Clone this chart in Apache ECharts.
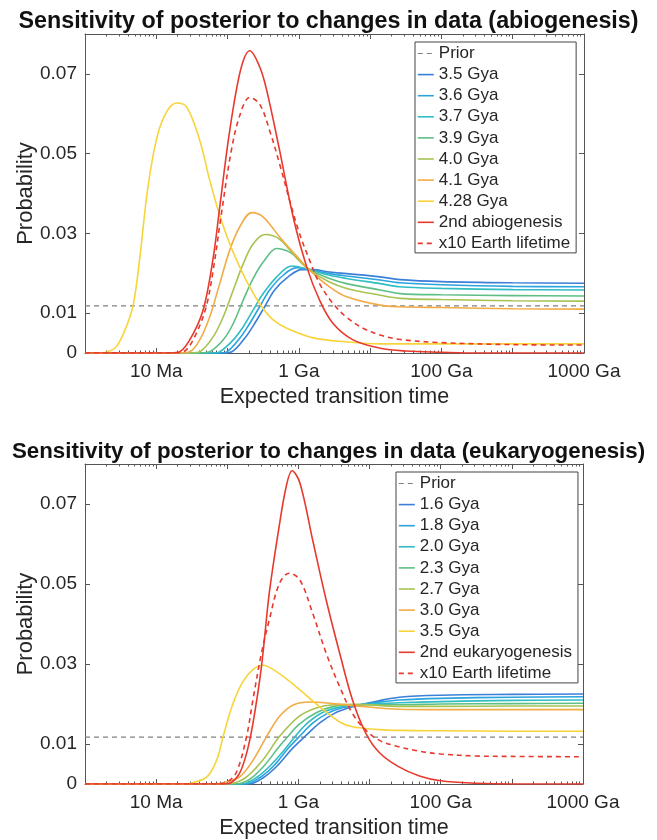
<!DOCTYPE html>
<html><head><meta charset="utf-8">
<script src="https://cdn.jsdelivr.net/npm/echarts@6/dist/echarts.min.js"></script>
<style>html,body{margin:0;padding:0;background:#fff}#c{width:657px;height:840px}</style>
</head><body><div id="c"></div>
<script>
// ---- axis ticks / labels ----
const xTickDecades = [6, 7, 8, 9, 10, 11, 12, 13];         // log10(years)
const xLabelDecades = [7, 9, 11, 13];
const xLabelTexts = ['10 Ma', '1 Ga', '100 Ga', '1000 Ga'];
const minorMultipliers = [2, 3, 4, 5, 6, 7, 8, 9];
const yTickValues = [0, 0.01, 0.03, 0.05, 0.07];

// ---- top panel (abiogenesis), points are [log10(years), probability] ----
const abioNames = ['Prior', '3.5 Gya', '3.6 Gya', '3.7 Gya', '3.9 Gya', '4.0 Gya', '4.1 Gya', '4.28 Gya', '2nd abiogenesis', 'x10 Earth lifetime'];
const abioPrior = [[6, 0.0118], [13, 0.0118]];
const abio35 = [[6,0],[7.95,0],[8.06,0.0003],[8.24,0.0037],[8.38,0.0074],[8.52,0.0116],[8.66,0.0158],[8.85,0.0191],[9.04,0.0209],[9.2,0.0209],[9.43,0.0203],[9.67,0.0199],[10.14,0.0191],[10.42,0.0184],[11,0.0179],[12,0.0176],[13,0.0175]];
const abio36 = [[6,0],[7.9,0],[7.99,0.0003],[8.17,0.0037],[8.31,0.0074],[8.45,0.0116],[8.59,0.0158],[8.78,0.0195],[8.97,0.0214],[9.15,0.0209],[9.43,0.0199],[9.67,0.0193],[10.14,0.0183],[10.42,0.0176],[11,0.0171],[12,0.0167],[13,0.0166]];
const abio37 = [[6,0],[7.8,0],[7.89,0.0003],[8.08,0.0033],[8.22,0.0066],[8.36,0.0108],[8.5,0.0149],[8.69,0.0191],[8.9,0.0218],[9.15,0.0209],[9.43,0.0195],[9.67,0.0187],[10.14,0.0174],[10.42,0.0166],[11,0.0162],[12,0.0159],[13,0.0158]];
const abio39 = [[6,0],[7.65,0],[7.75,0.0003],[7.94,0.0033],[8.08,0.0074],[8.22,0.0133],[8.36,0.0187],[8.5,0.0228],[8.69,0.0262],[8.87,0.0253],[9.01,0.0233],[9.15,0.0209],[9.43,0.0187],[9.67,0.0174],[10.14,0.0158],[10.42,0.0149],[11,0.0146],[12,0.0144],[13,0.0143]];
const abio40 = [[6,0],[7.5,0],[7.61,0.0003],[7.8,0.0041],[7.94,0.0091],[8.08,0.0158],[8.22,0.0224],[8.36,0.0274],[8.53,0.0297],[8.73,0.0285],[8.97,0.0238],[9.15,0.0208],[9.43,0.0178],[9.67,0.0162],[10.14,0.0145],[10.42,0.0137],[11,0.0134],[12,0.0131],[13,0.013]];
const abio41 = [[6,0],[7.35,0],[7.47,0.0003],[7.61,0.0033],[7.75,0.0091],[7.89,0.0174],[8.03,0.0258],[8.17,0.0316],[8.34,0.0352],[8.5,0.0341],[8.73,0.0291],[8.97,0.0243],[9.15,0.0208],[9.43,0.0166],[9.67,0.0141],[10.14,0.012],[10.42,0.0116],[11,0.0114],[12,0.0111],[13,0.011]];
const abio428 = [[6,0],[6.2,0],[6.3,0.0002],[6.44,0.0016],[6.58,0.0066],[6.68,0.0124],[6.77,0.0241],[6.87,0.040],[6.96,0.050],[7.05,0.0566],[7.17,0.0612],[7.29,0.0627],[7.43,0.0616],[7.61,0.0533],[7.75,0.0433],[7.89,0.0345],[8.03,0.0274],[8.17,0.0216],[8.31,0.0166],[8.48,0.0116],[8.64,0.0083],[8.83,0.0062],[9.2,0.0038],[9.67,0.0028],[10.14,0.0023],[11,0.0023],[13,0.0023]];
const abioSecond = [[6,0],[7.2,0],[7.33,0.0003],[7.52,0.0049],[7.67,0.0116],[7.8,0.0241],[7.89,0.0366],[8.01,0.0533],[8.13,0.0666],[8.22,0.0733],[8.31,0.0758],[8.45,0.0718],[8.55,0.0658],[8.73,0.0508],[8.92,0.0341],[9.11,0.0216],[9.29,0.0133],[9.48,0.0074],[9.76,0.0033],[10.14,0.0012],[10.5,0.0005],[11,0.0002],[11.5,0],[13,0]];
const abioX10 = [[6,0],[7.25,0],[7.4,0.0005],[7.55,0.0045],[7.7,0.0116],[7.8,0.021],[7.91,0.0345],[8.05,0.0505],[8.17,0.0595],[8.31,0.0641],[8.45,0.0624],[8.59,0.0558],[8.73,0.0474],[8.87,0.0383],[9.01,0.0299],[9.15,0.0233],[9.29,0.0174],[9.48,0.0124],[9.66,0.0091],[9.9,0.0062],[10.14,0.0045],[10.42,0.0034],[11,0.0026],[12,0.0021],[13,0.002]];

// ---- bottom panel (eukaryogenesis) ----
const eukNames = ['Prior', '1.6 Gya', '1.8 Gya', '2.0 Gya', '2.3 Gya', '2.7 Gya', '3.0 Gya', '3.5 Gya', '2nd eukaryogenesis', 'x10 Earth lifetime'];
const eukPrior = [[6, 0.0117], [13, 0.0117]];
const euk16 = [[6,0],[8.3,0],[8.5,0.0015],[8.7,0.0045],[8.9,0.0086],[9.11,0.0122],[9.3,0.0153],[9.5,0.0176],[9.7,0.019],[9.85,0.0197],[10.1,0.0207],[10.42,0.0217],[11,0.0222],[12,0.0224],[13,0.0225]];
const euk18 = [[6,0],[8.25,0],[8.45,0.0015],[8.65,0.0045],[8.85,0.0088],[9.02,0.012],[9.2,0.0152],[9.4,0.0176],[9.6,0.019],[9.81,0.0197],[10.1,0.0204],[10.42,0.021],[11,0.0214],[12,0.0217],[13,0.0218]];
const euk20 = [[6,0],[8.2,0],[8.4,0.0015],[8.6,0.0045],[8.8,0.0085],[8.95,0.0118],[9.1,0.0148],[9.3,0.0175],[9.5,0.0189],[9.81,0.0198],[10.42,0.0203],[11,0.0206],[12,0.0209],[13,0.021]];
const euk23 = [[6,0],[8.1,0],[8.3,0.001],[8.5,0.0042],[8.75,0.0098],[8.85,0.0118],[9.0,0.0148],[9.25,0.0178],[9.5,0.0194],[9.81,0.0198],[10.42,0.0198],[11,0.02],[12,0.0201],[13,0.0202]];
const euk27 = [[6,0],[8.0,0],[8.25,0.0015],[8.5,0.006],[8.73,0.0118],[9.0,0.0168],[9.25,0.019],[9.5,0.0198],[9.81,0.0199],[10.42,0.0194],[11,0.0194],[12,0.0195],[13,0.0195]];
const euk30 = [[6,0],[7.8,0],[7.95,0.0004],[8.17,0.0017],[8.36,0.0059],[8.55,0.0118],[8.73,0.0168],[8.92,0.0197],[9.16,0.0205],[9.48,0.0201],[9.95,0.0193],[10.42,0.0187],[11,0.0186],[12,0.0186],[13,0.0186]];
const euk35 = [[6,0],[7.4,0],[7.52,0.0004],[7.71,0.0017],[7.85,0.0059],[7.94,0.0118],[8.08,0.0201],[8.22,0.0256],[8.36,0.0286],[8.5,0.0297],[8.69,0.0281],[8.97,0.0243],[9.3,0.0193],[9.58,0.0155],[9.76,0.0143],[10.14,0.0136],[10.42,0.0134],[11,0.0133],[12,0.0132],[13,0.0132]];
const eukSecond = [[6,0],[7.95,0],[8.05,0.0003],[8.17,0.0026],[8.27,0.0076],[8.36,0.0151],[8.48,0.0293],[8.59,0.0477],[8.73,0.0645],[8.83,0.0745],[8.91,0.0783],[9.02,0.0753],[9.2,0.061],[9.39,0.046],[9.58,0.0327],[9.76,0.021],[9.95,0.0126],[10.14,0.0078],[10.4,0.0044],[10.7,0.002],[11,0.0008],[11.5,0.0002],[12,0],[13,0]];
const eukX10 = [[6,0],[7.85,0],[8.0,0.0005],[8.13,0.003],[8.27,0.0118],[8.36,0.021],[8.48,0.0327],[8.59,0.041],[8.73,0.050],[8.87,0.0527],[9.02,0.051],[9.2,0.0427],[9.39,0.0327],[9.58,0.0243],[9.76,0.0176],[9.95,0.0134],[10.14,0.0109],[10.37,0.0095],[10.7,0.0082],[11,0.0075],[11.5,0.007],[12,0.0069],[13,0.0068]];

// ---- styles ----
const lineColors = ['#3b7fd9', '#2ba3df', '#30bdc4', '#5dbf85', '#a6c351', '#f2ab45', '#f6d43a'];
const redColor = '#e8392d';
const priorColor = '#808080';
const axisColor = '#555555';
const textColor = '#262626';
const FONT = '"Liberation Sans", Arial, Helvetica, sans-serif';
const DASH = [5, 4];

const toYears = e => Math.pow(10, e);
const conv = arr => arr.map(p => [toYears(p[0]), p[1]]);
const majorTicks = xTickDecades.map(toYears);
const labelTicks = xLabelDecades.map(toYears);
const minorTicks = [];
xTickDecades.slice(0, -1).forEach(d => minorMultipliers.forEach(m => minorTicks.push(m * toYears(d))));

function xLabelFmt(v) {
  const e = Math.round(Math.log10(v));
  const i = xLabelDecades.indexOf(e);
  return i >= 0 ? xLabelTexts[i] : '';
}

function makeXAxes(g) {
  const base = { type: 'log', logBase: 10, gridIndex: g, min: 1e6, max: 1e13, splitLine: { show: false } };
  return [
    Object.assign({}, base, {
      position: 'bottom',
      axisLine: { show: true, lineStyle: { color: axisColor, width: 1 } },
      axisTick: { show: true, inside: true, length: 5, customValues: majorTicks, lineStyle: { color: axisColor } },
      axisLabel: { show: true, customValues: labelTicks, formatter: xLabelFmt, fontSize: 19, color: textColor, fontFamily: FONT, margin: 9 },
      name: 'Expected transition time', nameLocation: 'middle', nameGap: 33,
      nameTextStyle: { fontSize: 21.5, color: textColor, fontFamily: FONT, verticalAlign: 'top' }
    }),
    Object.assign({}, base, {
      position: 'bottom', axisLine: { show: false },
      axisTick: { show: true, inside: true, length: 2.5, customValues: minorTicks, lineStyle: { color: axisColor } },
      axisLabel: { show: false }
    }),
    Object.assign({}, base, {
      position: 'top', axisLine: { show: true, lineStyle: { color: axisColor, width: 1 } },
      axisTick: { show: true, inside: true, length: 5, customValues: majorTicks, lineStyle: { color: axisColor } },
      axisLabel: { show: false }
    }),
    Object.assign({}, base, {
      position: 'top', axisLine: { show: false },
      axisTick: { show: true, inside: true, length: 2.5, customValues: minorTicks, lineStyle: { color: axisColor } },
      axisLabel: { show: false }
    })
  ];
}

function makeYAxes(g) {
  const base = { type: 'value', gridIndex: g, min: 0, max: 0.08, splitLine: { show: false } };
  return [
    Object.assign({}, base, {
      position: 'left',
      axisLine: { show: true, lineStyle: { color: axisColor, width: 1 } },
      axisTick: { show: true, inside: true, length: 5, customValues: yTickValues, lineStyle: { color: axisColor } },
      axisLabel: { show: true, customValues: yTickValues, formatter: v => (v === 0 ? '0' : String(+v.toFixed(2))), fontSize: 19, color: textColor, fontFamily: FONT, margin: 8 },
      name: 'Probability', nameLocation: 'middle', nameGap: 48, nameMoveOverlap: false,
      nameTextStyle: { fontSize: 22, color: textColor, fontFamily: FONT }
    }),
    Object.assign({}, base, {
      position: 'right',
      axisLine: { show: true, lineStyle: { color: axisColor, width: 1 } },
      axisTick: { show: true, inside: true, length: 5, customValues: yTickValues, lineStyle: { color: axisColor } },
      axisLabel: { show: false }
    })
  ];
}

function styleOf(i) {
  if (i === 0) return { color: priorColor, width: 1.2, type: DASH };
  if (i === 8) return { color: redColor, width: 1.6, type: 'solid' };
  if (i === 9) return { color: redColor, width: 1.6, type: DASH };
  return { color: lineColors[i - 1], width: 1.6, type: 'solid' };
}

function makeSeries(g, names, prior, curves, second, x10) {
  const xi = g * 4, yi = g * 2;
  const all = [prior].concat(curves, [second, x10]);
  return all.map((d, i) => ({
    name: names[i], type: 'line', xAxisIndex: xi, yAxisIndex: yi, data: conv(d), symbol: 'none',
    smooth: i === 0 ? false : 0.35, lineStyle: styleOf(i), itemStyle: { color: styleOf(i).color }
  }));
}

function makeLegend(names, left, top) {
  return {
    data: names.map((n, i) => ({ name: n, lineStyle: styleOf(i), itemStyle: { color: styleOf(i).color, opacity: 0 } })),
    orient: 'vertical', left: left, top: top, itemWidth: 16, itemHeight: 10, itemGap: 4.1,
    padding: [3, 6, 1, 2], borderColor: '#444', borderWidth: 1, backgroundColor: '#fff', borderRadius: 0,
    selectedMode: false, itemStyle: { opacity: 0 },
    textStyle: { fontSize: 17, color: textColor, fontFamily: FONT, lineHeight: 16, padding: 0 }
  };
}

const chart = echarts.init(document.getElementById('c'), null, { renderer: 'canvas' });
chart.setOption({
  animation: false,
  backgroundColor: '#fff',
  title: [
    { text: 'Sensitivity of posterior to changes in data (abiogenesis)', left: 'center', top: 5,
      textStyle: { fontSize: 23.3, fontWeight: 'bold', color: '#111', fontFamily: FONT } },
    { text: 'Sensitivity of posterior to changes in data (eukaryogenesis)', left: 'center', top: 436,
      textStyle: { fontSize: 22.3, fontWeight: 'bold', color: '#111', fontFamily: FONT } }
  ],
  grid: [
    { left: 85, width: 499, top: 34, height: 319, show: false },
    { left: 85, width: 498, top: 464, height: 320, show: false }
  ],
  legend: [makeLegend(abioNames, 415, 42), makeLegend(eukNames, 396, 472)],
  xAxis: makeXAxes(0).concat(makeXAxes(1)),
  yAxis: makeYAxes(0).concat(makeYAxes(1)),
  series: makeSeries(0, abioNames, abioPrior, [abio35, abio36, abio37, abio39, abio40, abio41, abio428], abioSecond, abioX10)
    .concat(makeSeries(1, eukNames, eukPrior, [euk16, euk18, euk20, euk23, euk27, euk30, euk35], eukSecond, eukX10))
});
</script></body></html>
